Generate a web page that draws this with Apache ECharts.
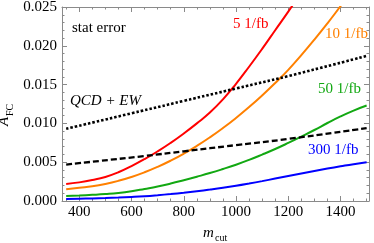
<!DOCTYPE html>
<html><head><meta charset="utf-8">
<script src="https://cdn.jsdelivr.net/npm/echarts@6/dist/echarts.min.js"></script>
<style>html,body{margin:0;padding:0;background:#fff}#c{width:374px;height:243px}</style>
</head><body><div id="c"></div>
<script>
var mcut = [350,400,450,500,550,600,650,700,750,800,850,900,950,1000,1050,1100,1150,1200,1250,1300,1350,1400,1450,1500];
var red5    = [0.0022,0.0024,0.0027,0.0031,0.0037,0.0045,0.0054,0.0064,0.0075,0.0087,0.0100,0.0114,0.0131,0.0151,0.0173,0.0196,0.0220,0.0244,0.0269];
var orange10= [0.0015,0.0017,0.0019,0.0022,0.0026,0.0031,0.0037,0.0044,0.0052,0.0061,0.0071,0.0082,0.0094,0.0107,0.0121,0.0136,0.0152,0.0169,0.0188,0.0208,0.0229,0.0251,0.0273];
var green50 = [0.00065,0.00071,0.00079,0.00089,0.00103,0.00125,0.00155,0.00187,0.00225,0.00268,0.00313,0.00360,0.00412,0.00468,0.00530,0.00598,0.00670,0.00748,0.00830,0.00915,0.01005,0.01090,0.01165,0.01230];
var blue300 = [0.00026,0.00029,0.00033,0.00038,0.00044,0.00052,0.00062,0.00075,0.00090,0.00107,0.00126,0.00147,0.00170,0.00196,0.00225,0.00256,0.00289,0.00322,0.00355,0.00387,0.00418,0.00447,0.00475,0.00500];
var qcdX = [350,600,800,1000,1200,1500];
var qcdEW = [0.0093,0.0113,0.0129,0.0145,0.0161,0.0187];
var bgX = [350,650,800,1000,1200,1500];
var bgDashed = [0.0047,0.0058,0.0064,0.0072,0.0080,0.0094];
var xMajor = [400,600,800,1000,1200,1400];
var xMinor = [350,450,500,550,650,700,750,850,900,950,1050,1100,1150,1250,1300,1350,1450,1500];

function pairs(xs, ys){ var out=[]; for(var i=0;i<ys.length;i++) out.push([xs[i], ys[i]]); return out; }

var SERIF = '"Liberation Serif","DejaVu Serif",serif';
var FRAME = '#8a8a8a';
var chart = echarts.init(document.getElementById('c'), null, {renderer:'canvas'});

function xAx(pos, vals, len, line, labels){
  return {type:'value', position:pos, min:334, max:1509,
    axisLine:{show:line, lineStyle:{color:FRAME, width:1}},
    axisTick:{show:true, inside:true, length:len, customValues:vals, lineStyle:{color:FRAME, width:1}},
    axisLabel:{show:labels, customValues:vals, color:'#000', fontFamily:SERIF, fontSize:15, margin:4,
      formatter:function(v){return String(v);}},
    splitLine:{show:false}};
}
function yAx(pos, labels){
  return {type:'value', position:pos, min:0, max:0.025, interval:0.005,
    axisLine:{show:true, lineStyle:{color:FRAME, width:1}},
    axisTick:{show:true, inside:true, length:5, lineStyle:{color:FRAME, width:1}},
    minorTick:{show:true, splitNumber:5, length:2.5, lineStyle:{color:FRAME, width:1}},
    axisLabel:{show:labels, color:'#000', fontFamily:SERIF, fontSize:15, margin:5,
      formatter:function(v){return v.toFixed(3);}},
    splitLine:{show:false}};
}
function line(data, color){
  return {type:'line', data:data, showSymbol:false, symbol:'none', smooth:true, clip:true,
    lineStyle:{color:color, width:2}, xAxisIndex:0, yAxisIndex:0, z:3};
}
function label(txt, x, y, color, italic){
  return {type:'text', left:x, top:y, z:10, style:{text:txt, fill:color, font:(italic?'italic ':'')+'15px '+SERIF}};
}

chart.setOption({
  animation:false,
  grid:{left:62, right:5, top:7, bottom:42, containLabel:false, outerBoundsMode:'none'},
  xAxis:[xAx('bottom', xMajor, 5, true, true), xAx('bottom', xMinor, 2.5, false, false),
         xAx('top', xMajor, 5, true, false), xAx('top', xMinor, 2.5, false, false)],
  yAxis:[yAx('left', true), yAx('right', false)],
  series:[
    line(pairs(mcut, red5), '#ff0000'),
    line(pairs(mcut, orange10), '#ff8000'),
    line(pairs(mcut, green50), '#12a812'),
    line(pairs(mcut, blue300), '#0000ff'),
    {type:'line', data:pairs(qcdX, qcdEW), showSymbol:false, symbol:'none', smooth:true,
      lineStyle:{color:'#000', width:2.6, type:[2.5,2]}, z:4},
    {type:'line', data:pairs(bgX, bgDashed), showSymbol:false, symbol:'none', smooth:true,
      lineStyle:{color:'#000', width:2.3, type:[6,3]}, z:4}
  ],
  graphic:[
    label('stat error', 72, 21, '#000', false),
    label('QCD + EW', 70, 94, '#000', true),
    label('5 1/fb', 233, 17, '#ff0000', false),
    label('10 1/fb', 325, 27, '#ff8000', false),
    label('50 1/fb', 318, 82, '#12a812', false),
    label('300 1/fb', 308, 143, '#0000ff', false),
    {type:'group', x:6, y:112, rotation:Math.PI/2, z:10, children:[
      {type:'text', x:-14, y:-9, style:{text:'A', fill:'#000', font:'italic 15px '+SERIF}},
      {type:'text', x:-4, y:-1, style:{text:'FC', fill:'#000', font:'10px '+SERIF}}
    ]},
    {type:'text', left:203, top:226, z:10, style:{text:'m', fill:'#000', font:'italic 15px '+SERIF}},
    {type:'text', left:215, top:233, z:10, style:{text:'cut', fill:'#000', font:'10px '+SERIF}}
  ]
});
</script></body></html>
